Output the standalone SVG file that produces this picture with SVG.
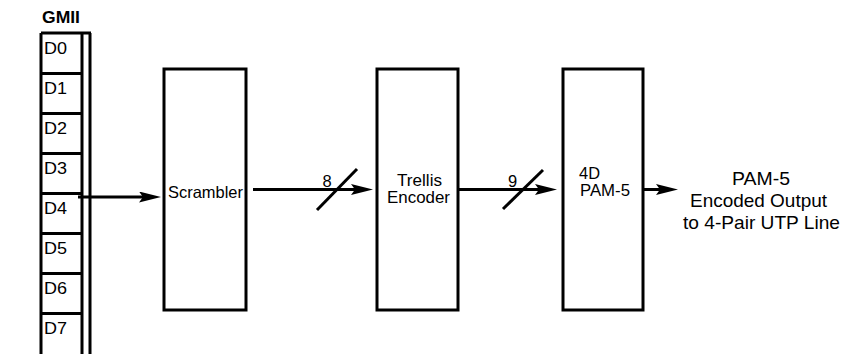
<svg xmlns="http://www.w3.org/2000/svg" width="843" height="354" viewBox="0 0 843 354">
<style>
.ln{stroke:#000;stroke-width:3;fill:none}
.box{stroke:#000;stroke-width:3;fill:#fff}
.t{font-family:"Liberation Sans",Arial,sans-serif;font-size:16.5px;fill:#000}
.o{font-family:"Liberation Sans",Arial,sans-serif;font-size:19px;fill:#000}
.b{font-family:"Liberation Sans",Arial,sans-serif;font-size:16px;font-weight:bold;fill:#000}
</style>
<defs>
<marker id="ah" markerUnits="userSpaceOnUse" markerWidth="24" markerHeight="12" refX="13" refY="5.5" orient="auto">
<path d="M0,0 L22,5.5 L0,11 L4,5.5 Z" fill="#000"/>
</marker>
</defs>
<g id="gmii">
<text class="b" x="42" y="23" textLength="38" lengthAdjust="spacingAndGlyphs">GMII</text>
<path class="ln" d="M41,33 H91 M41,33 V356 M82,33 V356 M90,33 V356 M41,73.5 H82 M41,113.5 H82 M41,153.5 H82 M41,193.5 H82 M41,233.5 H82 M41,273.5 H82 M41,313.5 H82"/>
<text class="t" x="44" y="54" textLength="23" lengthAdjust="spacingAndGlyphs">D0</text>
<text class="t" x="44" y="94" textLength="23" lengthAdjust="spacingAndGlyphs">D1</text>
<text class="t" x="44" y="134" textLength="23" lengthAdjust="spacingAndGlyphs">D2</text>
<text class="t" x="44" y="174" textLength="23" lengthAdjust="spacingAndGlyphs">D3</text>
<text class="t" x="44" y="214" textLength="23" lengthAdjust="spacingAndGlyphs">D4</text>
<text class="t" x="44" y="254" textLength="23" lengthAdjust="spacingAndGlyphs">D5</text>
<text class="t" x="44" y="294" textLength="23" lengthAdjust="spacingAndGlyphs">D6</text>
<text class="t" x="44" y="334" textLength="23" lengthAdjust="spacingAndGlyphs">D7</text>
</g>
<g id="scrambler">
<rect class="box" x="164" y="69" width="82" height="241"/>
<text class="t" x="168" y="198" textLength="75" lengthAdjust="spacingAndGlyphs">Scrambler</text>
</g>
<g id="trellis">
<rect class="box" x="377" y="69" width="81" height="241"/>
<text class="t" x="397" y="186" textLength="45" lengthAdjust="spacingAndGlyphs">Trellis</text>
<text class="t" x="387" y="203" textLength="63" lengthAdjust="spacingAndGlyphs">Encoder</text>
</g>
<g id="pam5">
<rect class="box" x="563" y="69" width="80" height="241"/>
<text class="t" x="579" y="179" textLength="21" lengthAdjust="spacingAndGlyphs">4D</text>
<text class="t" x="580" y="196" textLength="50" lengthAdjust="spacingAndGlyphs">PAM-5</text>
</g>
<g id="output">
<text class="o" x="732" y="185" textLength="58" lengthAdjust="spacingAndGlyphs">PAM-5</text>
<text class="o" x="690" y="207" textLength="137" lengthAdjust="spacingAndGlyphs">Encoded Output</text>
<text class="o" x="683" y="229" textLength="157" lengthAdjust="spacingAndGlyphs">to 4-Pair UTP Line</text>
</g>
<g id="connectors">
<line class="ln" x1="78" y1="197" x2="152" y2="197" marker-end="url(#ah)"/>
<line class="ln" x1="253" y1="189.5" x2="364" y2="189.5" marker-end="url(#ah)"/>
<line class="ln" x1="317" y1="210" x2="357" y2="169"/>
<text class="t" x="327" y="187" text-anchor="middle">8</text>
<line class="ln" x1="458" y1="189.5" x2="548" y2="189.5" marker-end="url(#ah)"/>
<line class="ln" x1="503" y1="209" x2="543" y2="170"/>
<text class="t" x="512.5" y="187" text-anchor="middle">9</text>
<line class="ln" x1="643" y1="189.5" x2="669" y2="189.5" marker-end="url(#ah)"/>
</g>
</svg>
